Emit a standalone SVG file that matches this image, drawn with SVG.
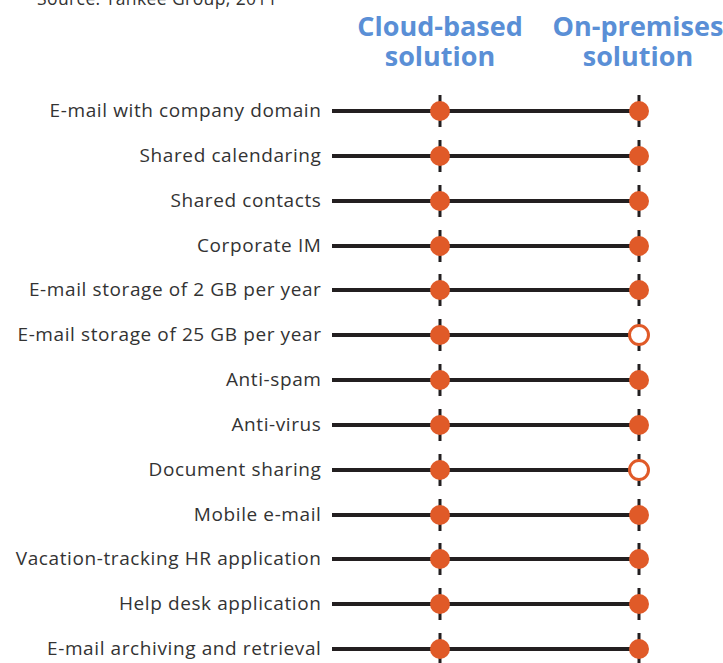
<svg xmlns="http://www.w3.org/2000/svg" width="723" height="663" viewBox="0 0 723 663">
<style>
.lbl{font-family:"Open Sans","Liberation Sans",sans-serif;font-size:19px;letter-spacing:0.6px;fill:#333;text-anchor:end}
.hdr{font-family:"Open Sans","Liberation Sans",sans-serif;font-size:27px;font-weight:bold;fill:#5a8fd6;text-anchor:middle}
.src{font-family:"Open Sans","Liberation Sans",sans-serif;font-size:17.5px;letter-spacing:0.4px;fill:#333}
.bar{stroke:#231f20;stroke-width:4}
.tick{stroke:#231f20;stroke-width:3}
.dot{fill:#e05a28}
.hollow{fill:#fff;stroke:#e05a28;stroke-width:3}
</style>
<defs>
<g id="row">
<line class="bar" x1="332" y1="0" x2="639" y2="0"/>
<line class="tick" x1="440" y1="-16" x2="440" y2="16"/>
<line class="tick" x1="639" y1="-16" x2="639" y2="16"/>
<circle class="dot" cx="440" cy="0" r="10"/>
</g>
</defs>
<text class="src" x="37" y="5">Source: Yankee Group, 2011</text>
<g id="header-cloud"><text class="hdr"><tspan x="440" y="36">Cloud-based</tspan><tspan x="440" y="66">solution</tspan></text></g>
<g id="header-onprem"><text class="hdr"><tspan x="638" y="36">On-premises</tspan><tspan x="638" y="66">solution</tspan></text></g>
<g id="connectors">
<use href="#row" y="111"/>
<use href="#row" y="156"/>
<use href="#row" y="201"/>
<use href="#row" y="246"/>
<use href="#row" y="290"/>
<use href="#row" y="335"/>
<use href="#row" y="380"/>
<use href="#row" y="425"/>
<use href="#row" y="470"/>
<use href="#row" y="515"/>
<use href="#row" y="559"/>
<use href="#row" y="604"/>
<use href="#row" y="649"/>
</g>
<g id="r1"><text class="lbl" x="321.5" y="117">E-mail with company domain</text><circle class="dot" cx="639" cy="111" r="10"/></g>
<g id="r2"><text class="lbl" x="321.5" y="162">Shared calendaring</text><circle class="dot" cx="639" cy="156" r="10"/></g>
<g id="r3"><text class="lbl" x="321.5" y="207">Shared contacts</text><circle class="dot" cx="639" cy="201" r="10"/></g>
<g id="r4"><text class="lbl" x="321.5" y="252">Corporate IM</text><circle class="dot" cx="639" cy="246" r="10"/></g>
<g id="r5"><text class="lbl" x="321.5" y="296">E-mail storage of 2 GB per year</text><circle class="dot" cx="639" cy="290" r="10"/></g>
<g id="r6"><text class="lbl" x="321.5" y="341">E-mail storage of 25 GB per year</text><circle class="hollow" cx="639" cy="335" r="9.5"/></g>
<g id="r7"><text class="lbl" x="321.5" y="386">Anti-spam</text><circle class="dot" cx="639" cy="380" r="10"/></g>
<g id="r8"><text class="lbl" x="321.5" y="431">Anti-virus</text><circle class="dot" cx="639" cy="425" r="10"/></g>
<g id="r9"><text class="lbl" x="321.5" y="476">Document sharing</text><circle class="hollow" cx="639" cy="470" r="9.5"/></g>
<g id="r10"><text class="lbl" x="321.5" y="521">Mobile e-mail</text><circle class="dot" cx="639" cy="515" r="10"/></g>
<g id="r11"><text class="lbl" x="321.5" y="565">Vacation-tracking HR application</text><circle class="dot" cx="639" cy="559" r="10"/></g>
<g id="r12"><text class="lbl" x="321.5" y="610">Help desk application</text><circle class="dot" cx="639" cy="604" r="10"/></g>
<g id="r13"><text class="lbl" x="321.5" y="655">E-mail archiving and retrieval</text><circle class="dot" cx="639" cy="649" r="10"/></g>
</svg>
